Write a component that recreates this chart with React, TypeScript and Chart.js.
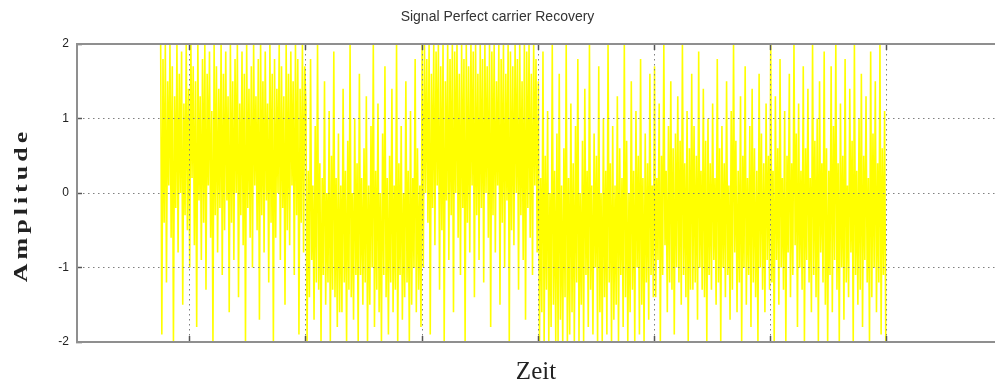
import React, { useEffect, useRef } from 'react';
import { Chart, registerables } from 'chart.js';

Chart.register(...registerables);

// ---------- text ----------
const TITLE = 'Signal Perfect carrier Recovery';
const X_LABEL = 'Zeit';
const Y_LABEL = 'Amplitude';

// ---------- axes ----------
const yTicks = [-2, -1, 0, 1, 2];
const xTicks = [1, 2, 3, 4, 5, 6, 7];
const X_MIN = 0.03;
const X_MAX = 7.93;
const Y_MIN = -2;
const Y_MAX = 2;

// ---------- signal (one block per symbol) ----------
const SAMPLE_STEP = 0.01;
const blockStarts = [0.75, 2, 3, 4, 5, 6];

const blockA = [
  2.0, -1.9, 1.8, -0.4, 2.0, -1.2, 1.5, 0.1, 2.0, -0.6,
  1.7, -2.0, 1.3, -0.2, 2.0, -0.8, 1.6, 0.0, 1.9, -1.5,
  1.2, -0.3, 2.0, -0.5, 1.4, -1.0, 2.0, 0.2, 1.7, -0.7,
  1.5, -1.8, 2.0, -0.1, 1.3, -0.9, 1.8, -0.4, 2.0, -1.3,
  1.6, 0.1, 1.9, -0.6, 1.1, -2.0, 2.0, -0.3, 1.7, -0.8,
  1.4, -0.2, 2.0, -1.1, 1.6, -0.5, 1.9, -0.1, 1.3, -1.6,
  2.0, -0.4, 1.5, -0.9, 1.8, 0.0, 2.0, -1.4, 1.2, -0.3,
  1.9, -0.7, 1.6, -2.0, 2.0, -0.2, 1.4, -0.6, 1.7, -1.0,
  2.0, 0.1, 1.3, -0.5, 1.8, -1.7, 2.0, -0.3, 1.5, -0.8,
  1.9, -0.1, 1.2, -1.2, 2.0, -0.4, 1.6, -2.0, 1.8, -0.6,
  1.4, 0.0, 2.0, -0.9, 1.7, -0.2, 1.3, -1.5, 2.0, -0.5,
  1.6, -0.7, 1.9, 0.1, 1.5, -1.1, 2.0, -0.3, 1.8, -1.9,
  1.4, -0.4, 2.0, -0.8, 1.7,
];

const blockB = [
  1.2, -2.0, 0.3, -1.4, 1.8, -0.9, 0.1, -1.7, 0.9, -1.2,
  2.0, -1.3, 0.4, -2.0, 0.2, -1.1, 1.5, -1.5, 0.0, -1.2,
  1.1, -2.0, 0.5, -1.3, 1.9, -1.4, 0.2, -1.8, 0.8, -1.6,
  0.1, -1.6, 1.4, -1.2, 0.3, -2.0, 0.7, -1.3, 2.0, -1.4,
  0.0, -1.7, 1.0, -1.1, 0.4, -2.0, 1.6, -1.1, 0.2, -1.5,
  0.6, -1.2, 1.3, -2.0, 0.1, -1.5, 0.9, -1.0, 2.0, -1.8,
  0.3, -1.3, 1.2, -1.6, 0.0, -2.0, 0.8, -1.1, 1.7, -1.4,
  0.2, -1.9, 0.5, -1.2, 1.4, -1.6, 0.1, -1.3, 2.0, -2.0,
  0.4, -1.1, 0.9, -1.7, 0.0, -1.4, 1.5, -1.2, 0.3, -2.0,
  1.1, -1.5, 0.2, -1.0, 1.8, -1.6, 0.6, -1.3, 0.1, -1.8,
];

const blockC = [
  2.0, -1.0, 2.0, 0.0, 1.8, -0.4, 2.0, -1.9, 1.6, -0.2,
  2.0, -0.7, 1.9, 0.1, 2.0, -1.3, 1.7, -0.5, 2.0, -2.0,
  1.5, -0.1, 2.0, -0.9, 1.8, -0.3, 2.0, -1.6, 1.9, 0.0,
  2.0, -0.6, 1.6, -1.1, 2.0, -0.2, 1.8, -2.0, 2.0, -0.4,
  1.7, -0.8, 2.0, 0.1, 1.9, -1.4, 2.0, -0.3, 1.6, -0.9,
  2.0, -0.2, 1.8, -1.2, 2.0, 0.0, 1.7, -0.6, 2.0, -1.8,
  1.9, -0.3, 2.0, -0.8, 1.5, 0.1, 2.0, -1.5, 1.8, -0.4,
  2.0, -1.0, 1.6, -0.1, 2.0, -2.0, 1.9, -0.5, 1.7, -0.7,
  2.0, 0.0, 1.8, -1.3, 2.0, -0.3, 1.5, -0.9, 2.0, -1.7,
  1.9, -0.2, 2.0, -0.6, 1.6, -1.1, 2.0, 0.1, 1.8, -0.8,
];

const blockD = [
  1.5, -2.0, 0.2, -1.6, 1.9, -2.0, 0.5, -1.3, 1.1, -2.0,
  0.0, -1.8, 2.0, -1.5, 0.3, -2.0, 0.8, -2.0, 1.6, -1.7,
  0.1, -2.0, 0.6, -1.4, 2.0, -2.0, 0.2, -1.9, 1.2, -1.6,
  0.4, -2.0, 0.9, -1.2, 1.8, -2.0, 0.0, -1.5, 0.7, -2.0,
  1.4, -1.1, 0.3, -1.8, 2.0, -1.3, 0.1, -1.9, 0.8, -1.0,
  0.5, -2.0, 1.7, -1.6, 0.0, -2.0, 1.0, -1.4, 0.3, -1.9,
  2.0, -1.2, 0.4, -2.0, 0.9, -1.7, 0.1, -1.5, 1.3, -2.0,
  0.6, -1.1, 0.2, -1.8, 2.0, -1.4, 0.7, -2.0, 0.0, -1.6,
  1.5, -1.3, 0.3, -2.0, 1.1, -1.0, 0.5, -1.9, 1.8, -1.5,
  0.2, -2.0, 0.8, -1.2, 0.4, -1.7, 1.6, -1.1, 0.1, -1.4,
];

const blockE = [
  1.7, -1.4, 0.2, -0.9, 1.2, -2.0, 0.5, -1.1, 2.0, -0.7,
  0.3, -1.6, 0.9, -1.2, 1.5, -1.3, 0.6, -1.9, 0.8, -1.0,
  1.3, -1.2, 0.7, -1.5, 2.0, -1.1, 0.4, -1.4, 1.1, -2.0,
  0.6, -1.3, 1.6, -1.3, 0.9, -1.2, 0.5, -1.7, 1.9, -1.0,
  0.3, -1.3, 1.4, -1.4, 0.7, -2.0, 1.0, -1.1, 0.4, -1.3,
  1.2, -0.9, 0.2, -1.5, 1.8, -1.2, 0.6, -2.0, 0.9, -1.0,
  0.4, -1.4, 1.5, -1.1, 0.1, -1.7, 1.1, -1.3, 2.0, -0.8,
  0.7, -1.6, 0.3, -1.2, 1.3, -2.0, 0.5, -1.0, 1.7, -1.5,
  0.2, -1.1, 0.9, -1.8, 1.4, -1.2, 0.6, -1.4, 0.3, -2.0,
  1.6, -1.0, 0.8, -1.3, 0.4, -1.6, 1.2, -0.9, 0.5, -1.3,
];

const blockF = [
  2.0, -1.2, 0.3, -2.0, 1.3, -0.9, 0.6, -1.5, 1.8, -1.0,
  0.2, -1.3, 1.1, -2.0, 0.5, -0.8, 1.6, -1.4, 0.4, -1.1,
  2.0, -0.7, 0.8, -1.8, 1.2, -1.0, 0.3, -1.3, 1.7, -2.0,
  0.6, -0.9, 1.4, -1.2, 0.2, -1.6, 2.0, -1.1, 0.7, -1.4,
  1.0, -2.0, 1.5, -0.8, 0.4, -1.2, 1.9, -1.5, 0.6, -2.0,
  0.3, -1.1, 1.7, -1.6, 0.9, -0.9, 2.0, -1.3, 0.4, -2.0,
  1.2, -1.0, 0.5, -1.7, 1.8, -1.2, 0.1, -1.4, 1.4, -0.8,
  0.7, -2.0, 2.0, -1.1, 0.3, -1.5, 1.0, -1.3, 1.6, -1.8,
  0.5, -0.9, 1.3, -1.2, 0.2, -2.0, 1.9, -1.4, 0.8, -1.0,
  1.5, -1.6, 0.4, -1.2, 2.0, -1.9, 0.6, -1.1, 1.1, -2.0,
];

const blocks = [blockA, blockB, blockC, blockD, blockE, blockF];

function buildPoints() {
  const pts: { x: number; y: number }[] = [];
  blocks.forEach((vals, b) => {
    vals.forEach((v, i) => {
      pts.push({ x: blockStarts[b] + i * SAMPLE_STEP, y: v });
    });
  });
  return pts;
}

const SANS = '"Liberation Sans", Arial, Helvetica, sans-serif';
const SERIF = '"Liberation Serif", "Times New Roman", Times, serif';
const GRID = '#808080';
const AXIS = '#8f8f8f';
const TICKMARK = '#555555';

const yTitlePlugin = {
  id: 'yTitleText',
  afterDraw(chart: any) {
    const { ctx, chartArea } = chart;
    ctx.save();
    ctx.translate(22, (chartArea.top + chartArea.bottom) / 2 + 12);
    ctx.rotate(-Math.PI / 2);
    ctx.scale(1, 0.7);
    ctx.font = 'bold 26px ' + SERIF;
    try { (ctx as any).letterSpacing = '4px'; } catch (e) { /* ignore */ }
    ctx.fillStyle = '#222222';
    ctx.textAlign = 'center';
    ctx.textBaseline = 'middle';
    ctx.fillText(Y_LABEL, 0, 0);
    ctx.restore();
  },
};

export default function App() {
  const ref = useRef<HTMLCanvasElement | null>(null);

  useEffect(() => {
    if (!ref.current) return;
    const chart = new Chart(ref.current, {
      type: 'line',
      data: {
        datasets: [
          {
            data: buildPoints(),
            borderColor: '#ffff00',
            borderWidth: 1.6,
            pointRadius: 0,
            tension: 0,
            fill: false,
          },
        ],
      },
      options: {
        responsive: false,
        animation: false,
        devicePixelRatio: 1,
        layout: { padding: 0 },
        plugins: {
          legend: { display: false },
          tooltip: { enabled: false },
          title: {
            display: true,
            text: TITLE,
            color: '#333333',
            font: { family: SANS, size: 14, weight: 'normal' },
            padding: { top: 9, bottom: 18.2 },
          },
        },
        scales: {
          x: {
            type: 'linear',
            min: X_MIN,
            max: X_MAX,
            afterBuildTicks: (s: any) => {
              s.ticks = xTicks.map((v) => ({ value: v }));
            },
            ticks: { display: false },
            grid: {
              color: GRID,
              lineWidth: 1,
              z: 1,
              drawTicks: true,
              tickLength: -6,
              tickColor: TICKMARK,
              tickWidth: 1.5,
            },
            border: { display: true, color: AXIS, width: 2, dash: [1.5, 3.5], z: 2 },
            title: {
              display: true,
              text: X_LABEL,
              color: '#222222',
              font: { family: SERIF, size: 25, weight: 'normal' },
              padding: { top: 0, bottom: 2.5 },
            },
            afterFit: (s: any) => {
              s.height = 48;
            },
          },
          x2: {
            type: 'linear',
            position: 'top',
            min: X_MIN,
            max: X_MAX,
            afterBuildTicks: (s: any) => {
              s.ticks = xTicks.map((v) => ({ value: v }));
            },
            ticks: { display: false },
            grid: {
              drawOnChartArea: false,
              drawTicks: true,
              tickLength: -6,
              tickColor: TICKMARK,
              tickWidth: 1.5,
              z: 1,
            },
            border: { display: true, color: AXIS, width: 2, z: 2 },
            afterFit: (s: any) => {
              s.height = 0;
            },
          },
          y: {
            type: 'linear',
            min: Y_MIN,
            max: Y_MAX,
            afterBuildTicks: (s: any) => {
              s.ticks = yTicks.map((v) => ({ value: v }));
            },
            ticks: {
              color: '#222222',
              font: { family: SANS, size: 12 },
              padding: 13,
            },
            grid: {
              color: GRID,
              lineWidth: 1,
              z: 1,
              drawTicks: true,
              tickLength: -5,
              tickColor: TICKMARK,
              tickWidth: 1.5,
            },
            border: { display: true, color: AXIS, width: 2, dash: [1.5, 3.5], z: 2 },
            afterFit: (s: any) => {
              s.width = 77;
            },
          },
        },
      } as any,
      plugins: [yTitlePlugin],
    });
    return () => chart.destroy();
  }, []);

  return (
    <div style={{ position: 'fixed', left: 0, top: 0, width: 995, height: 390, background: '#ffffff' }}>
      <canvas ref={ref} width={995} height={390} style={{ display: 'block' }} />
    </div>
  );
}
